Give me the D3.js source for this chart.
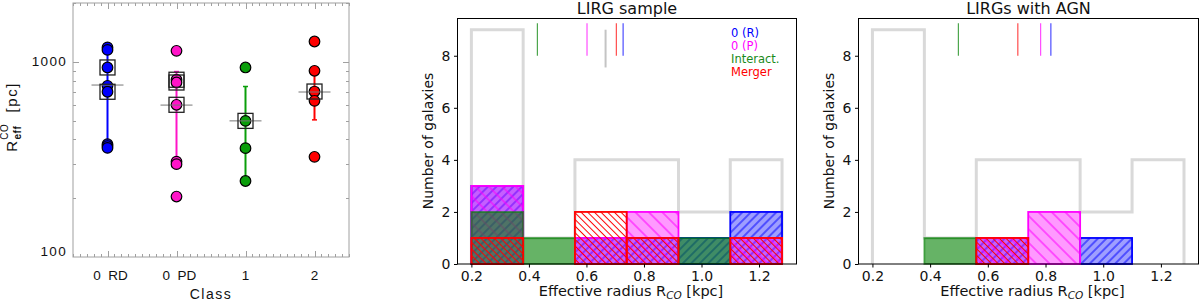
<!DOCTYPE html>
<html>
<head>
<meta charset="utf-8">
<script src="https://cdn.jsdelivr.net/npm/d3@7"></script>
<style>
body { margin: 0; background: #fff; }
svg { display: block; }
</style>
</head>
<body>
<svg id="fig" width="1200" height="301"></svg>
<script>
// class names on the left panel
var classLabels = ["0  RD", "0  PD", "1", "2"];
// R_eff^CO of each galaxy [pc]
var reffRD = [1185, 1150, 935, 753, 702, 378, 370, 362];
var reffPD = [1138, 809, 783, 602, 308, 299, 204];
var reffInt = [935, 498, 361, 245];
var reffMer = [1270, 899, 704, 631, 326];
// galaxies with AGN (open squares)
var agnRD = [935, 702];
var agnPD = [809, 783, 602];
var agnInt = [498];
var agnMer = [704];
// grey class mark and error bar ends [pc]
var classMean = [760, 600, 498, 700];
var errLow = [365, 305, 245, 504];
var errHigh = [1190, 891, 747, 899];
// histograms
var binEdges = [0.2, 0.38, 0.56, 0.74, 0.92, 1.10, 1.28];
var histNames = ["0 (R)", "0 (P)", "Interact.", "Merger"];
var yTicks = [0, 2, 4, 6, 8];
var xTicks = [0.2, 0.4, 0.6, 0.8, 1.0, 1.2];

var svg = d3.select("#fig");
var defs = svg.append("defs");

var allClasses = [reffRD, reffPD, reffInt, reffMer];
var agnClasses = [agnRD, agnPD, agnInt, agnMer];
var dotColors = ["#0000ff", "#ff14c8", "#0a9e0a", "#ff0000"];
var histColors = ["#0000ff", "#ff00ff", "#008000", "#ff0000"];

// ---------- left panel ----------
var xL = d3.scaleLinear().domain([-0.5, 3.5]).range([73, 349]);
var yL = d3.scaleLog().domain([100, 2000]).range([257, 3]);
var gL = svg.append("g");
var axisGrey = "#a0a0a0";

gL.append("rect").attr("x", 73).attr("y", 3).attr("width", 276).attr("height", 254)
    .attr("fill", "none").attr("stroke", axisGrey).attr("stroke-width", 1);

d3.range(-5, 36).forEach(function (i) {
    var v = i / 10;
    var major = (i % 10 === 0);
    var len = major ? 6 : 3;
    var x = Math.round(xL(v)) + 0.5;
    gL.append("line").attr("x1", x).attr("x2", x).attr("y1", 257).attr("y2", 257 - len).attr("stroke", axisGrey);
    gL.append("line").attr("x1", x).attr("x2", x).attr("y1", 3).attr("y2", 3 + len).attr("stroke", axisGrey);
});
[200, 300, 400, 500, 600, 700, 800, 900, 1000, 2000].forEach(function (v) {
    var len = (v === 1000) ? 6 : 3;
    var y = Math.round(yL(v)) + 0.5;
    gL.append("line").attr("x1", 73).attr("x2", 73 + len).attr("y1", y).attr("y2", y).attr("stroke", axisGrey);
    gL.append("line").attr("x1", 349).attr("x2", 349 - len).attr("y1", y).attr("y2", y).attr("stroke", axisGrey);
});

var leftFont = "'Liberation Sans', Arial, sans-serif";
[100, 1000].forEach(function (v) {
    gL.append("text").attr("x", 67).attr("y", yL(v) + (v === 100 ? -1 : 4.5))
        .attr("text-anchor", "end").attr("font-family", leftFont).attr("font-size", 13.5)
        .attr("letter-spacing", 1.3).attr("fill", "#111").text(v);
});
classLabels.forEach(function (t, i) {
    gL.append("text").attr("x", xL(i) + (t.length > 1 ? 3 : 0)).attr("y", 280)
        .attr("text-anchor", "middle").attr("font-family", leftFont).attr("font-size", 13.5)
        .attr("fill", "#111").style("white-space", "pre").text(t);
});
gL.append("text").attr("x", 211).attr("y", 299).attr("text-anchor", "middle")
    .attr("font-family", leftFont).attr("font-size", 14).attr("letter-spacing", 1.5)
    .attr("fill", "#111").text("Class");

var yLab = gL.append("text").attr("transform", "translate(17,117) rotate(-90)")
    .attr("text-anchor", "middle").attr("font-family", leftFont).attr("font-size", 15)
    .attr("letter-spacing", 1.5).attr("fill", "#111");
yLab.append("tspan").text("R");
yLab.append("tspan").attr("font-size", 10).attr("font-weight", "bold").attr("letter-spacing", 0.5).attr("dy", 4).text("eff");
yLab.append("tspan").attr("font-size", 10).attr("letter-spacing", 0.5).attr("dx", -14).attr("dy", -13).text("CO");
yLab.append("tspan").attr("dy", 9).style("white-space", "pre").text("  [pc]");

allClasses.forEach(function (vals, i) {
    var cx = xL(i);
    gL.append("line").attr("x1", cx).attr("x2", cx).attr("y1", yL(errLow[i])).attr("y2", yL(errHigh[i]))
        .attr("stroke", dotColors[i]).attr("stroke-width", 2);
    [errLow[i], errHigh[i]].forEach(function (v) {
        gL.append("line").attr("x1", cx - 2.5).attr("x2", cx + 2.5).attr("y1", yL(v)).attr("y2", yL(v))
            .attr("stroke", dotColors[i]).attr("stroke-width", 1.5);
    });
    gL.selectAll(null).data(vals).enter().append("circle")
        .attr("cx", cx).attr("cy", function (d) { return yL(d); }).attr("r", 5.3)
        .attr("fill", dotColors[i]).attr("stroke", "#000").attr("stroke-width", 1.2);
    gL.append("line").attr("x1", cx - 16).attr("x2", cx + 16).attr("y1", yL(classMean[i])).attr("y2", yL(classMean[i]))
        .attr("stroke", "#777").attr("stroke-width", 1);
    gL.selectAll(null).data(agnClasses[i]).enter().append("rect")
        .attr("x", cx - 7.5).attr("y", function (d) { return yL(d) - 7.5; })
        .attr("width", 15).attr("height", 15)
        .attr("fill", "none").attr("stroke", "#222").attr("stroke-width", 1.3);
});

// ---------- hatch patterns ----------
function hatch(id, color, spacing, angle) {
    var p = defs.append("pattern").attr("id", id).attr("patternUnits", "userSpaceOnUse")
        .attr("width", spacing).attr("height", spacing)
        .attr("patternTransform", "rotate(" + angle + ")");
    p.append("line").attr("x1", spacing / 2).attr("x2", spacing / 2).attr("y1", 0).attr("y2", spacing)
        .attr("stroke", color).attr("stroke-width", 1);
}
hatch("hB", "#0000ff", 6, 45);
hatch("hM", "#ff00ff", 9.5, -45);
hatch("hR", "#ff0000", 4.7, -45);

var histStyle = [
    { fill: "#0000ff", op: 0.38, hatch: "hB", stroke: "#0000ff", sop: 1 },
    { fill: "#ff00ff", op: 0.4, hatch: "hM", stroke: "#ff00ff", sop: 1 },
    { fill: "#008000", op: 0.6, hatch: null, stroke: "#008000", sop: 0.6 },
    { fill: "none", op: 0, hatch: "hR", stroke: "#ff0000", sop: 1 }
];

var binner = d3.bin().domain([binEdges[0], binEdges[binEdges.length - 1]])
    .thresholds(binEdges.slice(1, -1));
function counts(vals) {
    return binner(vals.map(function (v) { return v / 1000; })).map(function (b) {
        return { x0: b.x0, x1: b.x1, n: b.length };
    });
}
var everyone = d3.merge(allClasses);

function histPanel(left, right, title, classes, greyMedian, legend) {
    var xs = d3.scaleLinear().domain([0.15, 1.332]).range([left, right]);
    var ys = d3.scaleLinear().domain([0, 9.45]).range([264, 18]);
    var g = svg.append("g");
    var font = "'DejaVu Sans', sans-serif";

    // total sample as grey step outline
    var tot = counts(everyone);
    var pts = [[xs(tot[0].x0), ys(0)]];
    tot.forEach(function (b) {
        pts.push([xs(b.x0), ys(b.n)]);
        pts.push([xs(b.x1), ys(b.n)]);
    });
    pts.push([xs(tot[tot.length - 1].x1), ys(0)]);
    g.append("path").attr("d", d3.line()(pts)).attr("fill", "none")
        .attr("stroke", "#d9d9d9").attr("stroke-width", 3);

    classes.forEach(function (vals, i) {
        var st = histStyle[i];
        var bins = counts(vals);
        var sel = g.selectAll(null).data(bins).enter();
        if (st.fill !== "none") {
            sel.append("rect").attr("x", function (d) { return xs(d.x0); })
                .attr("y", function (d) { return ys(d.n); })
                .attr("width", function (d) { return xs(d.x1) - xs(d.x0); })
                .attr("height", function (d) { return ys(0) - ys(d.n); })
                .attr("fill", st.fill).attr("fill-opacity", st.op);
        }
        if (st.hatch) {
            g.selectAll(null).data(bins).enter().append("rect")
                .attr("x", function (d) { return xs(d.x0); })
                .attr("y", function (d) { return ys(d.n); })
                .attr("width", function (d) { return xs(d.x1) - xs(d.x0); })
                .attr("height", function (d) { return ys(0) - ys(d.n); })
                .attr("fill", "url(#" + st.hatch + ")");
        }
        g.selectAll(null).data(bins).enter().append("rect")
            .attr("x", function (d) { return xs(d.x0); })
            .attr("y", function (d) { return ys(d.n); })
            .attr("width", function (d) { return xs(d.x1) - xs(d.x0); })
            .attr("height", function (d) { return ys(0) - ys(d.n); })
            .attr("fill", "none").attr("stroke", st.stroke).attr("stroke-opacity", st.sop)
            .attr("stroke-width", 1.8);
    });

    // medians
    if (greyMedian) {
        var m = d3.median(everyone) / 1000;
        g.append("line").attr("x1", xs(m)).attr("x2", xs(m)).attr("y1", ys(7.55)).attr("y2", ys(9.0))
            .attr("stroke", "#c4c4c4").attr("stroke-width", 2);
    }
    classes.forEach(function (vals, i) {
        var m = d3.median(vals) / 1000;
        g.append("line").attr("x1", xs(m)).attr("x2", xs(m)).attr("y1", ys(8)).attr("y2", ys(9.25))
            .attr("stroke", histColors[i]).attr("stroke-opacity", 0.7).attr("stroke-width", 1.2);
    });

    if (legend) {
        histNames.forEach(function (t, i) {
            g.append("text").attr("x", 731).attr("y", 36.5 + i * 13).attr("font-family", font)
                .attr("font-size", 11.5).attr("fill", histColors[i] === "#008000" ? "#1a8a1a" : histColors[i]).text(t);
        });
    }

    // frame and axes
    g.append("rect").attr("x", left + 0.5).attr("y", 18.5).attr("width", right - left - 1).attr("height", 245.5)
        .attr("fill", "none").attr("stroke", "#000").attr("stroke-width", 1);
    g.append("g").attr("transform", "translate(0,264)")
        .call(d3.axisBottom(xs).tickValues(xTicks).tickFormat(d3.format(".1f")).tickSize(3.5).tickPadding(4))
        .call(function (a) { a.select(".domain").remove(); a.selectAll("text").attr("font-size", 14).attr("font-family", font).attr("fill", "#111"); });
    g.append("g").attr("transform", "translate(" + (left + 0.5) + ",0)")
        .call(d3.axisLeft(ys).tickValues(yTicks).tickSize(3.5).tickPadding(3.5))
        .call(function (a) { a.select(".domain").remove(); a.selectAll("text").attr("font-size", 14).attr("font-family", font).attr("fill", "#111"); });

    g.append("text").attr("x", (left + right) / 2).attr("y", 13.5).attr("text-anchor", "middle")
        .attr("font-family", font).attr("font-size", 16).attr("fill", "#111").text(title);
    var xl = g.append("text").attr("x", (left + right) / 2 + 4).attr("y", 296).attr("text-anchor", "middle")
        .attr("font-family", font).attr("font-size", 14.5).attr("fill", "#111");
    xl.append("tspan").text("Effective radius R");
    xl.append("tspan").attr("font-size", 10.5).attr("font-style", "italic").attr("dy", 2.5).text("CO");
    xl.append("tspan").attr("dy", -2.5).style("white-space", "pre").text(" [kpc]");
    g.append("text").attr("transform", "translate(" + (left - 24) + ",141) rotate(-90)")
        .attr("text-anchor", "middle").attr("font-family", font).attr("font-size", 14)
        .attr("fill", "#111").text("Number of galaxies");
}

histPanel(457, 797, "LIRG sample", allClasses, true, true);
histPanel(858, 1199, "LIRGs with AGN", agnClasses, false, false);
</script>
</body>
</html>
